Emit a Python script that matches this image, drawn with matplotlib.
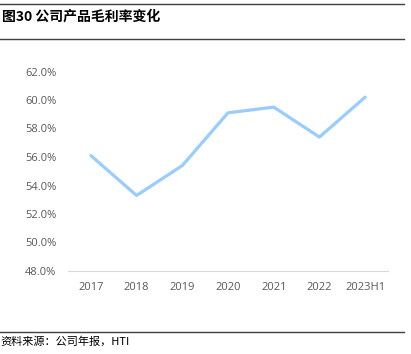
import matplotlib.pyplot as plt
from matplotlib.lines import Line2D
from matplotlib.ticker import FuncFormatter, MultipleLocator

plt.rcParams['font.family'] = ['Open Sans', 'Noto Sans CJK SC', 'DejaVu Sans']

# gross margin by year, %
years = ['2017', '2018', '2019', '2020', '2021', '2022', '2023H1']
margin = [56.1, 53.3, 55.4, 59.1, 59.5, 57.4, 60.2]

title = '图30 公司产品毛利率变化'
source = '资料来源：公司年报，HTI'

fig = plt.figure(figsize=(4.11, 3.54), dpi=100)
ax = fig.add_axes([68 / 411, 83 / 354, 320 / 411, 199.5 / 354])

ax.plot(range(len(years)), margin, color='#99CCFF', lw=2.3,
        solid_capstyle='round', solid_joinstyle='round')

ax.set_xlim(-0.5, len(years) - 0.5)
ax.set_ylim(48, 62)
ax.yaxis.set_major_locator(MultipleLocator(2))
ax.yaxis.set_major_formatter(FuncFormatter(lambda v, p: f'{v:.1f}%'))
ax.set_xticks(range(len(years)))
ax.set_xticklabels(years)

for s in ['top', 'right', 'left']:
    ax.spines[s].set_visible(False)
ax.spines['bottom'].set_color('#D9D9D9')
ax.spines['bottom'].set_linewidth(0.8)
ax.tick_params(axis='both', length=0, labelsize=8, colors='#595959')
ax.tick_params(axis='y', pad=8.5)
ax.tick_params(axis='x', pad=8)

# header and footer rules
for y in [4, 39, 332]:
    fig.add_artist(Line2D([0, 404 / 411], [1 - y / 354, 1 - y / 354],
                          color='#404040', lw=1.0, transform=fig.transFigure))

fig.text(2 / 411, 1 - 17 / 354, title, fontsize=10, fontweight='bold',
         va='center', ha='left', family=['Noto Sans CJK SC', 'DejaVu Sans'])
fig.text(0, 1 - 341 / 354, source, fontsize=8, va='center', ha='left',
         family=['Noto Sans CJK SC', 'DejaVu Sans'])

fig.savefig('out.png', dpi=100)
